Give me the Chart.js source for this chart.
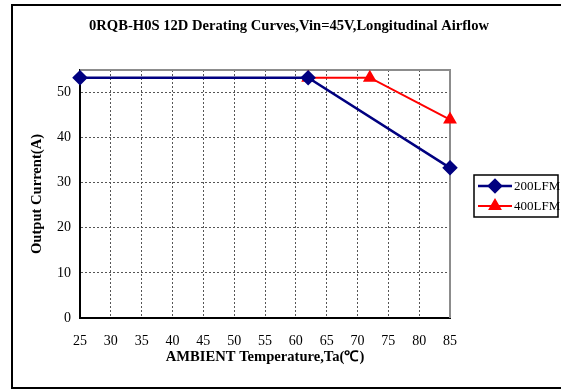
<!DOCTYPE html>
<html><head><meta charset="utf-8">
<script src="https://cdn.jsdelivr.net/npm/chart.js@4/dist/chart.umd.min.js"></script>
<style>
html,body{margin:0;padding:0;background:#fff;overflow:hidden;}
canvas{display:block;}
</style></head>
<body>
<canvas id="c" width="561" height="390"></canvas>
<script>
const titleText = "0RQB-H0S 12D Derating Curves,Vin=45V,Longitudinal Airflow";
const xTitle = "AMBIENT Temperature,Ta(℃)";
const yTitle = "Output Current(A)";
const seriesNames = ["200LFM", "400LFM"];
const temps200 = [25, 62, 85];
const current200 = [53.3, 53.3, 33.3];
const temps400 = [62, 72, 85];
const current400 = [53.3, 53.3, 44];

const serif = "'Liberation Serif','Times New Roman',serif";

const framePlugin = {
  id: 'framePlugin',
  beforeDraw(chart) {
    const {ctx} = chart;
    ctx.save();
    ctx.strokeStyle = '#000';
    ctx.lineWidth = 2;
    ctx.beginPath();
    ctx.moveTo(600, 5);
    ctx.lineTo(12, 5);
    ctx.lineTo(12, 388);
    ctx.lineTo(600, 388);
    ctx.stroke();
    ctx.restore();
  },
  beforeDatasetsDraw(chart) {
    const {ctx, chartArea: a} = chart;
    ctx.save();
    ctx.strokeStyle = '#8c8c8c';
    ctx.lineWidth = 2;
    ctx.beginPath();
    ctx.moveTo(a.left, a.top);
    ctx.lineTo(a.right, a.top);
    ctx.lineTo(a.right, a.bottom);
    ctx.stroke();
    ctx.restore();
  },
  afterDraw(chart) {
    const {ctx} = chart;
    ctx.save();
    ctx.fillStyle = '#000';
    ctx.font = "bold 14.6px " + serif;
    ctx.textAlign = 'center';
    ctx.textBaseline = 'middle';
    ctx.fillText(titleText, 289, 26);
    // legend
    const lx = 474, ly = 175, lw = 84, lh = 42;
    ctx.fillStyle = '#fff';
    ctx.fillRect(lx, ly, lw, lh);
    ctx.strokeStyle = '#000';
    ctx.lineWidth = 1.5;
    ctx.strokeRect(lx, ly, lw, lh);
    chart.data.datasets.forEach((ds, i) => {
      const y = ly + 11 + i * 20;
      ctx.strokeStyle = ds.borderColor;
      ctx.lineWidth = ds.borderWidth;
      ctx.beginPath(); ctx.moveTo(lx + 4, y); ctx.lineTo(lx + 38, y); ctx.stroke();
      Chart.helpers.drawPoint(ctx, {pointStyle: ds.pointStyle, radius: ds.pointRadius, borderWidth: 1}, lx + 21, y);
      ctx.fillStyle = ds.pointBackgroundColor;
      ctx.fill();
      ctx.fillStyle = '#000';
      ctx.font = "13px " + serif;
      ctx.textAlign = 'left';
      ctx.fillText(ds.label, lx + 40, y + 1);
    });
    ctx.restore();
  }
};

new Chart(document.getElementById('c'), {
  type: 'scatter',
  data: {
    datasets: [
      {
        label: seriesNames[0],
        data: temps200.map((x, i) => ({x, y: current200[i]})),
        showLine: true,
        borderColor: '#000080',
        backgroundColor: '#000080',
        pointBackgroundColor: '#000080',
        pointBorderColor: '#000080',
        borderWidth: 2.5,
        pointStyle: 'rectRot',
        pointRadius: 6,
        clip: false
      },
      {
        label: seriesNames[1],
        data: temps400.map((x, i) => ({x, y: current400[i]})),
        showLine: true,
        borderColor: '#ff0000',
        backgroundColor: '#ff0000',
        pointBackgroundColor: '#ff0000',
        pointBorderColor: '#ff0000',
        borderWidth: 2,
        pointStyle: 'triangle',
        pointRadius: 6,
        clip: false
      }
    ]
  },
  options: {
    responsive: false,
    animation: false,
    events: [],
    layout: {padding: {left: 0, right: 111, top: 70, bottom: 0}},
    plugins: {legend: {display: false}, title: {display: false}, tooltip: {enabled: false}},
    scales: {
      x: {
        type: 'linear', min: 25, max: 85,
        afterFit: s => { s.height = 72; },
        ticks: {stepSize: 5, color: '#000', font: {family: serif, size: 14}, padding: 15},
        grid: {color: '#555', lineWidth: 1, drawTicks: false},
        border: {color: '#000', width: 2, dash: [2, 2]},
        title: {display: true, text: xTitle, color: '#000', font: {family: serif, size: 14.6, weight: 'bold'}, padding: {top: 0, bottom: 24}}
      },
      y: {
        type: 'linear', min: 0, max: 55,
        afterFit: s => { s.width = 80; },
        ticks: {stepSize: 10, includeBounds: false, color: '#000', font: {family: serif, size: 14}, padding: 9},
        grid: {color: '#555', lineWidth: 1, drawTicks: false},
        border: {color: '#000', width: 2, dash: [2, 2]},
        title: {display: true, text: yTitle, color: '#000', font: {family: serif, size: 14.6, weight: 'bold'}, padding: {top: 28, bottom: 0}}
      }
    }
  },
  plugins: [framePlugin]
});
</script>
</body></html>
